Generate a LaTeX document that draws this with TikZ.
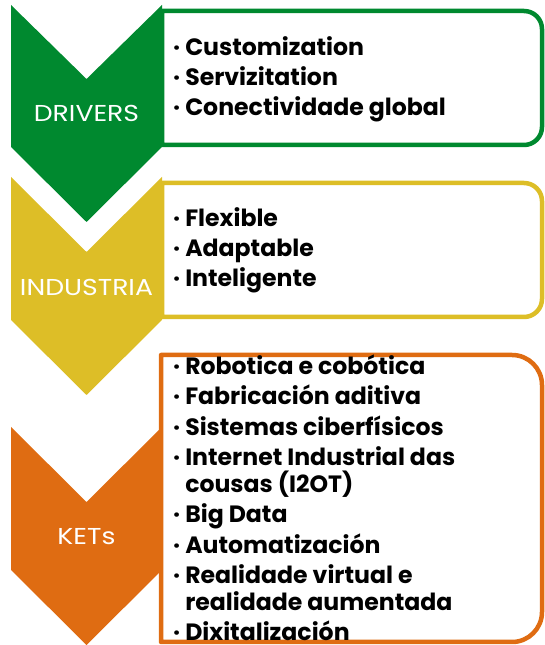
\documentclass[tikz,border=0pt]{standalone}
\usepackage{fontspec}
\setmainfont{Poppins}
\definecolor{cgreen}{RGB}{0,137,47}
\definecolor{cyellow}{RGB}{221,190,39}
\definecolor{corange}{RGB}{223,108,18}
\tikzset{
  chevlabel/.style={text=white, inner sep=0pt, font=\fontsize{23}{26}\selectfont},
  boxline/.style={draw=#1, line width=4.5pt, fill=white, line join=round},
  itemtext/.style={anchor=base west, inner sep=0pt, font=\bfseries\fontsize{23.6}{26.3}\selectfont},
}
\newcommand{\itm}[1]{\smash{·\ #1}}
\newcommand{\cnt}[1]{\smash{\phantom{·\ }#1}}
\newcommand{\wide}[1]{\scalebox{1.16}[1]{#1}}
\begin{document}
\begin{tikzpicture}[x=1pt,y=1pt]
\useasboundingbox (0,0) rectangle (544,645);
% chevrons
\fill[cgreen]  (11,640) -- (86.5,566) -- (162,640) -- (162,498) -- (86.5,423) -- (11,498) -- cycle;
\fill[cyellow] (11,468) -- (86.5,393) -- (162,468) -- (162,325) -- (86.5,250) -- (11,325) -- cycle;
\fill[corange] (11,218) -- (86.5,143) -- (162,218) -- (162,75) -- (86.5,0) -- (11,75) -- cycle;
% boxes
\draw[boxline=cgreen]  (162,634) -- (524,634) arc[start angle=90,end angle=0,radius=18] -- (542,518) arc[start angle=0,end angle=-90,radius=18] -- (162,500) -- cycle;
\draw[boxline=cyellow] (162,462) -- (524,462) arc[start angle=90,end angle=0,radius=18] -- (542,346) arc[start angle=0,end angle=-90,radius=18] -- (162,328) -- cycle;
\draw[boxline=corange] (161,290) -- (512,290) arc[start angle=90,end angle=0,radius=30] -- (542,33) arc[start angle=0,end angle=-90,radius=30] -- (161,3) -- cycle;
% labels
\node[chevlabel] (drivers) at (86.5,532) {\wide{DRIVERS}};
\node[chevlabel] (industria) at (86.5,358) {\wide{INDUSTRIA}};
\node[chevlabel] (kets) at (86.5,108) {\wide{KETs}};
% items
\node[itemtext] (drvitems) at (173,589) {\begin{tabular}[t]{@{}l@{}}
\itm{Customization}\\[3.7pt]
\itm{Servizitation}\\[3.7pt]
\itm{Conectividade global}
\end{tabular}};
\node[itemtext] (inditems) at (173,418.3) {\begin{tabular}[t]{@{}l@{}}
\itm{Flexible}\\[3.7pt]
\itm{Adaptable}\\[3.7pt]
\itm{Inteligente}
\end{tabular}};
\node[itemtext] (ketitems) at (173,270.5) {\begin{tabular}[t]{@{}l@{}}
\itm{Robotica e cobótica}\\[4.2pt]
\itm{Fabricación aditiva}\\[4.2pt]
\itm{Sistemas ciberfísicos}\\[4.2pt]
\itm{Internet Industrial das}\\
\cnt{cousas (I2OT)}\\[4.2pt]
\itm{Big Data}\\[4.2pt]
\itm{Automatización}\\[4.2pt]
\itm{Realidade virtual e}\\
\cnt{realidade aumentada}\\[4.2pt]
\itm{Dixitalización}
\end{tabular}};
\end{tikzpicture}
\end{document}
